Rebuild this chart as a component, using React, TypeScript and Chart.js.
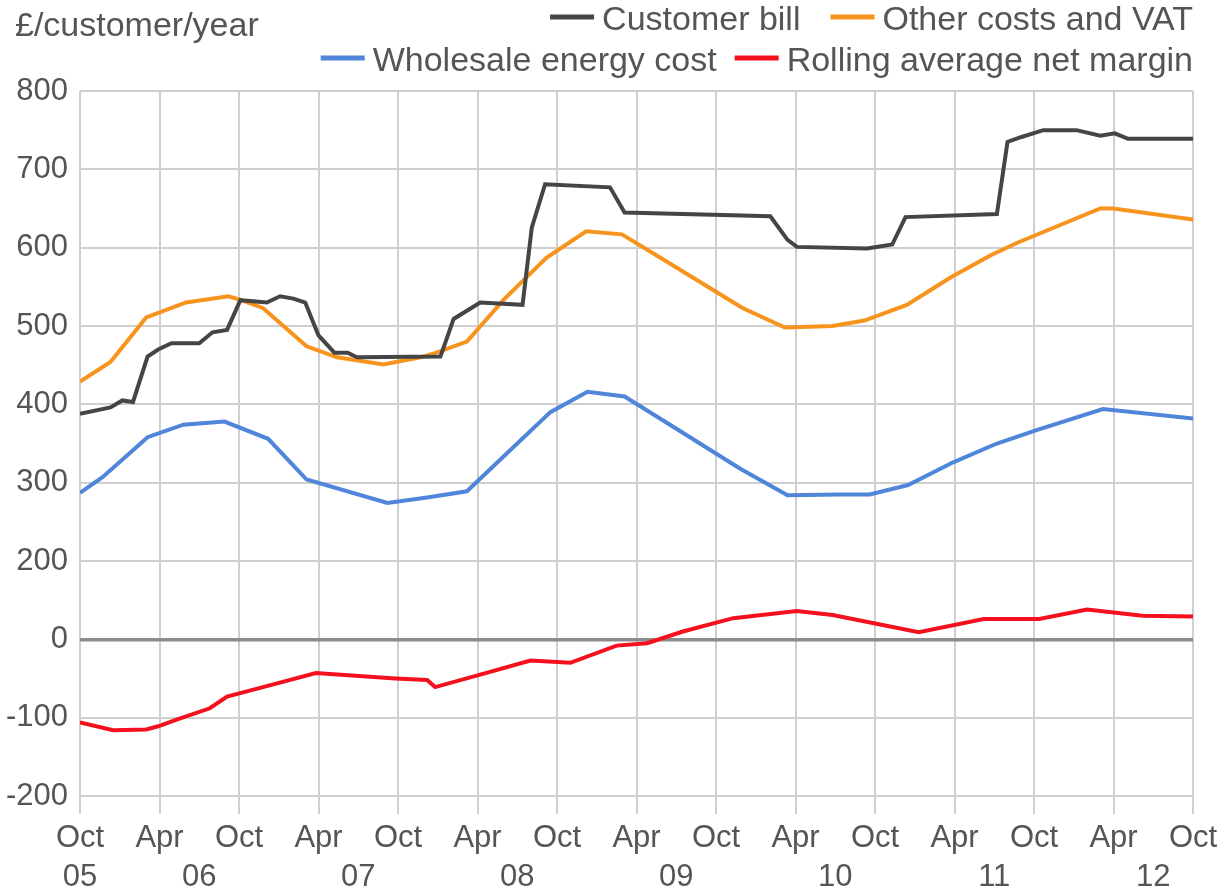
import React, { useEffect, useRef } from 'react';
import { Chart, registerables } from 'chart.js';

Chart.register(...registerables);

const FONT = '"Liberation Sans", Arial, Helvetica, sans-serif';

// x positions are months since Oct 2005
const halfYearLabels = ['Oct', 'Apr'];
const yearTickMonths = [0, 9, 21, 33, 45, 57, 69, 81];
const yearTickLabels = ['05', '06', '07', '08', '09', '10', '11', '12'];
const yAxisLabelsAbove = 100; // labels of gridlines above zero are shown one step higher

const titleText = '£/customer/year';
const seriesNames = ['Customer bill', 'Other costs and VAT', 'Wholesale energy cost', 'Rolling average net margin'];
const seriesColors = ['#454545', '#F7941E', '#4F86D9', '#F5101E'];

const billMonths = [0, 2.3, 3.2, 4, 5.1, 5.9, 6.9, 9, 10, 11.1, 12.1, 14.1, 15.1, 16.1, 17, 18, 19.2, 20.2, 20.9, 27.2, 28.2, 30.2, 33.4, 34.1, 35.1, 40, 41.1, 52.1, 53.4, 54.1, 59.4, 61.3, 62.3, 69.2, 70, 71, 72.7, 75.2, 77, 78.1, 79.1, 84];
const billValues = [388, 396, 405, 403, 461, 470, 478, 478, 492, 495, 533, 530, 538, 535, 530, 488, 466, 466, 460, 461, 509, 530, 527, 626, 681, 677, 645, 640, 610, 601, 599, 604, 639, 643, 735, 741, 750, 750, 743, 746, 739, 739];

const otherMonths = [0, 2.3, 5, 8, 11.2, 12, 13.8, 17.1, 19.4, 22.9, 25.7, 26.9, 29.2, 32, 35.2, 38.2, 40.9, 44.3, 50, 53.2, 56.8, 59.2, 62.4, 65.7, 68.7, 70.7, 77, 78, 84];
const otherValues = [429, 454, 511, 530, 538, 534, 523, 474, 460, 451, 460, 466, 480, 534, 587, 621, 617, 582, 523, 498, 500, 507, 527, 562, 590, 606, 650, 650, 636];

const wholesaleMonths = [0, 1.7, 5.1, 7.8, 10.9, 14.2, 17.1, 23.2, 26.2, 29.2, 35.5, 38.3, 41.1, 44.8, 49.8, 53.4, 57.4, 59.6, 62.5, 65.9, 69.2, 72.2, 77.2, 84];
const wholesaleValues = [287, 307, 358, 374, 378, 356, 304, 274, 281, 289, 390, 416, 410, 371, 318, 284, 285, 285, 297, 326, 350, 367, 394, 382];

const marginMonths = [0, 2.5, 5, 5.9, 7.4, 9.8, 11.1, 13.6, 17.8, 23.8, 26.2, 26.8, 29.8, 34, 37, 40.5, 42.8, 45.5, 49.3, 54.1, 56.8, 63.3, 68.2, 72.4, 76, 80.2, 84];
const marginValues = [-106, -116, -115, -111, -102, -88, -73, -62, -43, -50, -52, -61, -47, -27, -30, -8, -5, 10, 27, 36, 31, 9, 26, 26, 38, 30, 29];

const toPoints = (xs: number[], ys: number[]) => xs.map((x, i) => ({ x, y: ys[i] }));

const legendPlugin = {
  id: 'customLegend',
  afterDraw(chart: any) {
    const ctx = chart.ctx;
    const ds = chart.data.datasets;
    ctx.save();
    ctx.fillStyle = '#555555';
    ctx.textBaseline = 'middle';
    ctx.textAlign = 'left';
    ctx.font = `34px ${FONT}`;
    ctx.fillText(titleText, 15, 27);
    const rows = [[0, 1], [2, 3]];
    const rowY = [21, 62];
    const rowGap = [30, 18];
    const sampleW = 44;
    const sampleGap = 8;
    const right = chart.chartArea.right;
    rows.forEach((row, ri) => {
      const widths = row.map((i) => ctx.measureText(ds[i].label).width);
      const total = widths.reduce((a, w) => a + sampleW + sampleGap + w, 0) + rowGap[ri] * (row.length - 1);
      let x = right - total;
      const y = rowY[ri];
      row.forEach((i, k) => {
        ctx.strokeStyle = ds[i].borderColor;
        ctx.lineWidth = 5;
        ctx.beginPath();
        ctx.moveTo(x, y - 4);
        ctx.lineTo(x + sampleW, y - 4);
        ctx.stroke();
        x += sampleW + sampleGap;
        ctx.fillText(ds[i].label, x, y);
        x += widths[k] + rowGap[ri];
      });
    });
    ctx.restore();
  },
};

export default function App() {
  const canvasRef = useRef<HTMLCanvasElement | null>(null);

  useEffect(() => {
    document.body.style.margin = '0';
    document.body.style.overflow = 'hidden';
    const canvas = canvasRef.current;
    if (!canvas) return;
    const seriesData = [
      toPoints(billMonths, billValues),
      toPoints(otherMonths, otherValues),
      toPoints(wholesaleMonths, wholesaleValues),
      toPoints(marginMonths, marginValues),
    ];
    const chart = new Chart(canvas, {
      type: 'line',
      data: {
        datasets: seriesData.map((d, i) => ({
          label: seriesNames[i],
          data: d,
          borderColor: seriesColors[i],
          backgroundColor: seriesColors[i],
          borderWidth: 4,
          pointRadius: 0,
          tension: 0,
          fill: false,
          yAxisID: i === 3 ? 'y' : 'yTop',
          xAxisID: 'x',
        })),
      },
      options: {
        animation: false,
        responsive: true,
        maintainAspectRatio: false,
        layout: { padding: { top: 91, right: 33, left: 0, bottom: 0 } },
        plugins: {
          legend: { display: false },
          title: { display: false },
          tooltip: { enabled: false },
        },
        scales: {
          x: {
            type: 'linear',
            position: 'bottom',
            weight: 1,
            min: 0,
            max: 84,
            border: { display: false },
            grid: {
              color: '#cfcfcf',
              lineWidth: 2,
              drawTicks: true,
              tickLength: 18,
            },
            ticks: {
              stepSize: 6,
              autoSkip: false,
              maxRotation: 0,
              minRotation: 0,
              padding: 6,
              color: '#555555',
              font: { family: FONT, size: 31 },
              callback: (v: any) => halfYearLabels[Math.round(Number(v) / 6) % 2],
            },
            afterFit: (s: any) => { s.height = 60; },
          },
          xYear: {
            type: 'linear',
            position: 'bottom',
            weight: 2,
            min: 0,
            max: 84,
            border: { display: false },
            grid: { display: false, drawTicks: false },
            ticks: {
              autoSkip: false,
              maxRotation: 0,
              minRotation: 0,
              padding: 3,
              color: '#555555',
              font: { family: FONT, size: 31 },
              callback: (v: any) => {
                const idx = yearTickMonths.indexOf(Number(v));
                return idx >= 0 ? yearTickLabels[idx] : '';
              },
            },
            afterBuildTicks: (s: any) => {
              s.ticks = yearTickMonths.map((m) => ({ value: m }));
            },
            afterFit: (s: any) => { s.height = 34; },
          },
          y: {
            type: 'linear',
            position: 'left',
            min: -200,
            max: 700,
            border: { display: false },
            grid: {
              drawTicks: false,
              color: (c: any) => (c.tick && c.tick.value === 0 ? '#8c8c8c' : '#cfcfcf'),
              lineWidth: (c: any) => (c.tick && c.tick.value === 0 ? 3.5 : 2),
            },
            ticks: {
              stepSize: 100,
              padding: 12,
              color: '#555555',
              font: { family: FONT, size: 31 },
              callback: (v: any) => {
                const n = Number(v);
                return String(n >= 100 ? n + yAxisLabelsAbove : n);
              },
            },
            afterFit: (s: any) => { s.width = 80; },
          },
          yTop: {
            type: 'linear',
            position: 'left',
            display: false,
            min: -100,
            max: 800,
          },
        },
      },
      plugins: [legendPlugin],
    });
    return () => chart.destroy();
  }, []);

  return (
    <div style={{ position: 'relative', width: '1226px', height: '890px' }}>
      <canvas ref={canvasRef} />
    </div>
  );
}
